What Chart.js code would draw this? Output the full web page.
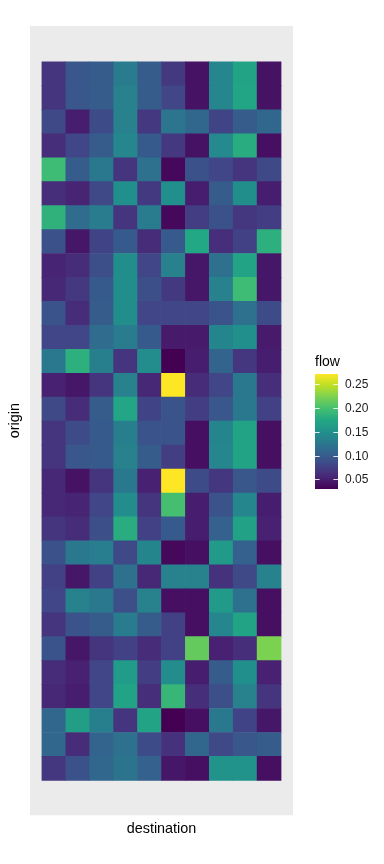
<!DOCTYPE html>
<html>
<head>
<meta charset="utf-8">
<script src="https://cdn.jsdelivr.net/npm/chart.js@4.4.0/dist/chart.umd.min.js"></script>
<style>
  html, body { margin: 0; padding: 0; background: #fff; }
  #wrap { width: 384px; height: 864px; }
</style>
</head>
<body>
<div id="wrap"><canvas id="heat" width="384" height="864"></canvas></div>
<script>
const destinations = ['D01', 'D02', 'D03', 'D04', 'D05', 'D06', 'D07', 'D08', 'D09', 'D10'];
// origins listed top to bottom as they appear in the picture
const origins = [
    'O30', 'O29', 'O28', 'O27', 'O26', 'O25', 'O24', 'O23', 'O22', 'O21',
    'O20', 'O19', 'O18', 'O17', 'O16', 'O15', 'O14', 'O13', 'O12', 'O11',
    'O10', 'O09', 'O08', 'O07', 'O06', 'O05', 'O04', 'O03', 'O02', 'O01'
];
// one row per origin (same order), one value per destination
const flow = [
    [0.066, 0.095, 0.100, 0.130, 0.100, 0.070, 0.042, 0.140, 0.170, 0.042],
    [0.066, 0.095, 0.100, 0.136, 0.100, 0.080, 0.042, 0.140, 0.172, 0.042],
    [0.083, 0.050, 0.086, 0.136, 0.069, 0.124, 0.110, 0.078, 0.100, 0.110],
    [0.062, 0.080, 0.100, 0.141, 0.098, 0.069, 0.042, 0.144, 0.180, 0.040],
    [0.195, 0.100, 0.127, 0.066, 0.120, 0.035, 0.090, 0.080, 0.066, 0.083],
    [0.062, 0.054, 0.083, 0.150, 0.070, 0.150, 0.050, 0.100, 0.148, 0.050],
    [0.185, 0.115, 0.130, 0.066, 0.130, 0.035, 0.073, 0.090, 0.068, 0.073],
    [0.090, 0.045, 0.078, 0.098, 0.060, 0.098, 0.175, 0.062, 0.076, 0.183],
    [0.054, 0.060, 0.088, 0.148, 0.080, 0.136, 0.045, 0.120, 0.170, 0.045],
    [0.057, 0.069, 0.098, 0.148, 0.088, 0.070, 0.045, 0.136, 0.195, 0.045],
    [0.093, 0.060, 0.100, 0.148, 0.080, 0.080, 0.080, 0.093, 0.120, 0.085],
    [0.080, 0.080, 0.115, 0.130, 0.098, 0.047, 0.047, 0.139, 0.150, 0.047],
    [0.127, 0.183, 0.134, 0.066, 0.146, 0.030, 0.050, 0.107, 0.068, 0.050],
    [0.052, 0.045, 0.066, 0.136, 0.057, 0.272, 0.060, 0.080, 0.127, 0.062],
    [0.083, 0.060, 0.100, 0.173, 0.078, 0.093, 0.073, 0.095, 0.127, 0.076],
    [0.066, 0.086, 0.098, 0.134, 0.093, 0.093, 0.040, 0.139, 0.170, 0.040],
    [0.066, 0.095, 0.098, 0.136, 0.100, 0.073, 0.040, 0.141, 0.170, 0.040],
    [0.057, 0.042, 0.066, 0.127, 0.052, 0.272, 0.085, 0.068, 0.095, 0.085],
    [0.057, 0.054, 0.080, 0.146, 0.066, 0.200, 0.050, 0.093, 0.141, 0.050],
    [0.066, 0.060, 0.088, 0.180, 0.076, 0.098, 0.050, 0.105, 0.168, 0.052],
    [0.090, 0.127, 0.132, 0.083, 0.139, 0.035, 0.040, 0.160, 0.105, 0.040],
    [0.076, 0.045, 0.076, 0.120, 0.057, 0.136, 0.136, 0.064, 0.083, 0.136],
    [0.080, 0.136, 0.127, 0.088, 0.136, 0.040, 0.040, 0.160, 0.120, 0.040],
    [0.066, 0.093, 0.100, 0.130, 0.100, 0.076, 0.040, 0.141, 0.170, 0.040],
    [0.093, 0.045, 0.066, 0.076, 0.060, 0.076, 0.214, 0.052, 0.062, 0.224],
    [0.060, 0.052, 0.080, 0.163, 0.073, 0.146, 0.050, 0.100, 0.150, 0.052],
    [0.057, 0.050, 0.080, 0.170, 0.062, 0.190, 0.062, 0.088, 0.136, 0.066],
    [0.110, 0.165, 0.134, 0.066, 0.170, 0.030, 0.040, 0.127, 0.078, 0.045],
    [0.110, 0.060, 0.107, 0.120, 0.085, 0.064, 0.110, 0.083, 0.095, 0.100],
    [0.068, 0.090, 0.110, 0.122, 0.105, 0.045, 0.040, 0.153, 0.153, 0.040]
];
const legendTicks = [0.05, 0.10, 0.15, 0.20, 0.25];

const viridisStops = ['#440154', '#482475', '#414487', '#355F8D', '#2A788E', '#21918C',
    '#22A884', '#44BF70', '#7AD151', '#BDDF26', '#FDE725'];

const allValues = flow.flat();
const vmin = Math.min(...allValues);
const vmax = Math.max(...allValues);

function hexToRgb(h) {
    return [parseInt(h.substr(1, 2), 16), parseInt(h.substr(3, 2), 16), parseInt(h.substr(5, 2), 16)];
}

function viridis(t) {
    t = Math.max(0, Math.min(1, t));
    const pos = t * (viridisStops.length - 1);
    const i = Math.min(Math.floor(pos), viridisStops.length - 2);
    const f = pos - i;
    const a = hexToRgb(viridisStops[i]);
    const b = hexToRgb(viridisStops[i + 1]);
    const c = a.map((v, k) => Math.round(v + (b[k] - v) * f));
    return 'rgb(' + c.join(',') + ')';
}

function colourFor(v) {
    return viridis((v - vmin) / (vmax - vmin));
}

// stacked bars, bottom row first
const datasets = [];
for (let r = origins.length - 1; r >= 0; r--) {
    datasets.push({
        label: origins[r],
        data: destinations.map((d, j) => ({ x: j, y: 1 })),
        backgroundColor: flow[r].map(colourFor),
        borderWidth: 0,
        barPercentage: 1,
        categoryPercentage: 1
    });
}

const panelBackground = {
    id: 'panelBackground',
    beforeDraw(chart) {
        const { ctx, chartArea } = chart;
        ctx.save();
        ctx.fillStyle = '#EBEBEB';
        ctx.fillRect(chartArea.left, chartArea.top, chartArea.right - chartArea.left, chartArea.bottom - chartArea.top);
        ctx.restore();
    }
};

// colourbar legend on the right
const colourBar = {
    id: 'colourBar',
    afterDraw(chart) {
        const ctx = chart.ctx;
        const x0 = 315, x1 = 338, top = 374, bottom = 489;
        ctx.save();
        ctx.fillStyle = '#000';
        ctx.font = '14px "Liberation Sans", Arial, sans-serif';
        ctx.textBaseline = 'alphabetic';
        ctx.textAlign = 'left';
        ctx.fillText('flow', 315, 365.5);

        const grad = ctx.createLinearGradient(0, bottom, 0, top);
        for (let i = 0; i <= 20; i++) {
            grad.addColorStop(i / 20, viridis(i / 20));
        }
        ctx.fillStyle = grad;
        ctx.fillRect(x0, top, x1 - x0, bottom - top);

        ctx.strokeStyle = 'rgba(255,255,255,0.85)';
        ctx.lineWidth = 1;
        ctx.font = '12px "Liberation Sans", Arial, sans-serif';
        ctx.textBaseline = 'middle';
        ctx.fillStyle = '#1a1a1a';
        legendTicks.forEach(v => {
            const y = Math.round(bottom - (v - vmin) / (vmax - vmin) * (bottom - top)) + 0.5;
            ctx.beginPath();
            ctx.moveTo(x0, y);
            ctx.lineTo(x0 + 4.6, y);
            ctx.moveTo(x1 - 4.6, y);
            ctx.lineTo(x1, y);
            ctx.stroke();
            ctx.fillText(v.toFixed(2), 345, y);
        });
        ctx.restore();
    }
};

const titleFont = { family: '"Liberation Sans", Arial, sans-serif', size: 14.4, lineHeight: 1.2 };

new Chart(document.getElementById('heat').getContext('2d'), {
    type: 'bar',
    data: { datasets: datasets },
    options: {
        responsive: false,
        animation: false,
        events: [],
        layout: { padding: { left: 0, right: 91, top: 26, bottom: 26 } },
        plugins: {
            legend: { display: false },
            tooltip: { enabled: false }
        },
        scales: {
            x: {
                type: 'linear',
                stacked: true,
                offset: false,
                min: -1.0,
                max: 10.0,
                grid: { display: false, drawTicks: false },
                border: { display: false },
                ticks: { display: false },
                title: {
                    display: true,
                    text: 'destination',
                    color: '#000',
                    font: titleFont,
                    padding: { top: 5.4, bottom: 0 }
                }
            },
            y: {
                type: 'linear',
                stacked: true,
                min: -1.46,
                max: 31.5,
                grid: { display: false, drawTicks: false },
                border: { display: false },
                ticks: { display: false },
                title: {
                    display: true,
                    text: 'origin',
                    color: '#000',
                    font: titleFont,
                    padding: { top: 6, bottom: 6.7 }
                }
            }
        }
    },
    plugins: [panelBackground, colourBar]
});
</script>
</body>
</html>
